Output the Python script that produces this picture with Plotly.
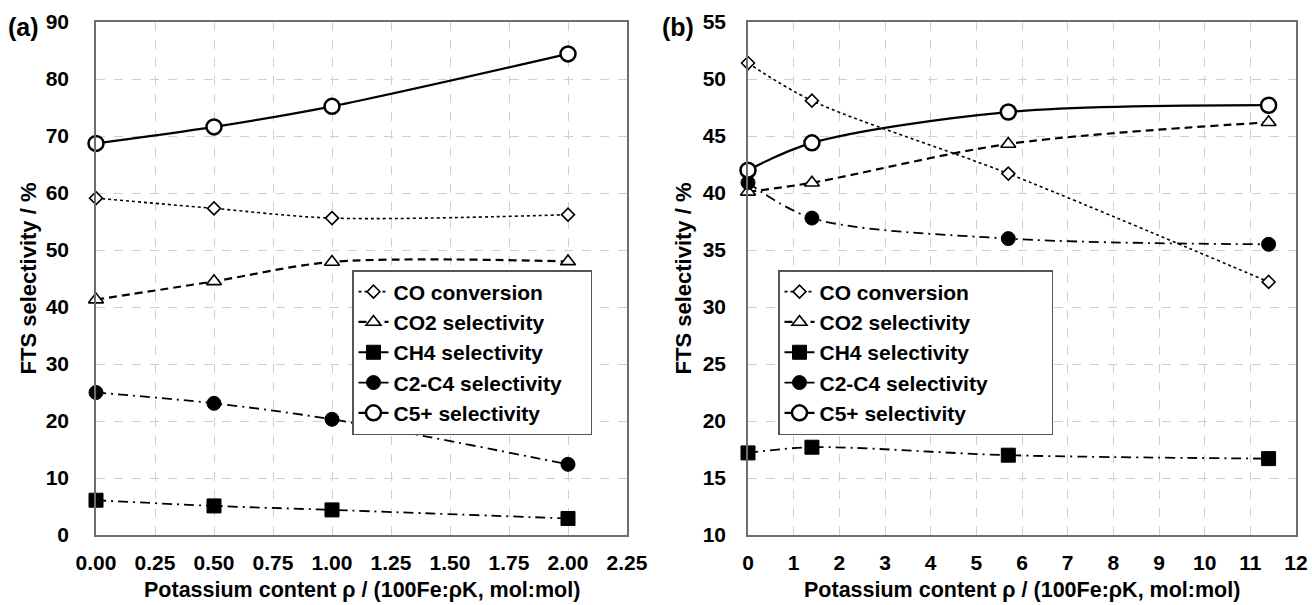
import plotly.graph_objects as go

# Panel (a): potassium content 0-2 (100Fe:pK)
k_a = [0.0, 0.5, 1.0, 2.0]
co_conv_a = [59.1, 57.3, 55.6, 56.2]
co2_sel_a = [41.3, 44.5, 47.9, 48.0]
ch4_sel_a = [6.1, 5.1, 4.4, 2.9]
c2c4_sel_a = [25.0, 23.1, 20.3, 12.4]
c5p_sel_a = [68.7, 71.6, 75.2, 84.4]

# Panel (b): potassium content 0-11.4 (100Fe:pK)
k_b = [0.0, 1.4, 5.7, 11.4]
co_conv_b = [51.4, 48.1, 41.7, 32.2]
co2_sel_b = [40.1, 40.9, 44.3, 46.2]
ch4_sel_b = [17.2, 17.7, 17.0, 16.7]
c2c4_sel_b = [40.9, 37.8, 36.0, 35.5]
c5p_sel_b = [42.0, 44.4, 47.1, 47.7]

series_names = ["CO conversion", "CO2 selectivity", "CH4 selectivity",
                "C2-C4 selectivity", "C5+ selectivity"]

FONT = "Liberation Sans, Arial, sans-serif"
BLACK = "#000000"
W, H = 1312, 605
NBSP = "\u00a0"

styles = [
    dict(symbol="diamond", size=10, fill="white", lw=1.6, dash="dot", width=1.6),
    dict(symbol="triangle-up", size=13, fill="white", lw=1.6, dash="8px,5px", width=2.2),
    dict(symbol="square", size=14, fill=BLACK, lw=1, dash="10px,5px,2px,5px", width=1.8),
    dict(symbol="circle", size=14, fill=BLACK, lw=1, dash="10px,5px,2px,5px", width=1.8),
    dict(symbol="circle", size=15, fill="white", lw=2.5, dash="solid", width=2.2),
]

fig = go.Figure()

# (x values, series, x axis, y axis, legend id, trailing padding of legend box)
panels = [
    (k_a, [co_conv_a, co2_sel_a, ch4_sel_a, c2c4_sel_a, c5p_sel_a], "x", "y", "legend", 4),
    (k_b, [co_conv_b, co2_sel_b, ch4_sel_b, c2c4_sel_b, c5p_sel_b], "x2", "y2", "legend2", 10),
]

for xs, ys_list, xa, ya, lg, pad in panels:
    for name, ys, st in zip(series_names, ys_list, styles):
        fig.add_trace(go.Scatter(
            x=xs, y=ys, name="<b>" + name + "</b>" + NBSP * pad, mode="lines+markers",
            xaxis=xa, yaxis=ya, legend=lg, cliponaxis=False,
            line=dict(color=BLACK, width=st["width"], dash=st["dash"],
                      shape="spline", smoothing=0.9),
            marker=dict(symbol=st["symbol"], size=st["size"], color=st["fill"],
                        line=dict(color=BLACK, width=st["lw"])),
        ))

axis_common = dict(
    showline=True, linecolor="#6e6e6e", linewidth=1.5, mirror=True,
    showgrid=True, gridcolor="#cfcfcf", griddash="dash", gridwidth=1,
    zeroline=False, ticks="", automargin=False,
    tickfont=dict(family=FONT, size=21, color=BLACK),
    tickprefix="<b>", ticksuffix="</b>",
)

x_title = "<b>Potassium content ρ / (100Fe:ρK, mol:mol)</b>"
y_title = "<b>FTS selectivity / %</b>"

# plot-area pixel boxes (left, right) and shared (top, bottom)
ax_a = (96, 627)
ax_b = (748, 1296)
top, bottom = 22, 535
ydom = [(H - bottom) / H, (H - top) / H]


def px(x):
    return x / W


def py(y):
    return (H - y) / H


legend_common = dict(xanchor="left", yanchor="top", bgcolor="white",
                     bordercolor="#555555", borderwidth=1.5, tracegroupgap=0,
                     font=dict(family=FONT, size=21, color=BLACK))

fig.update_layout(
    width=W, height=H,
    margin=dict(l=0, r=0, t=0, b=0, autoexpand=False),
    paper_bgcolor="white", plot_bgcolor="white",
    font=dict(family=FONT, color=BLACK),
    xaxis=dict(axis_common, domain=[px(ax_a[0]), px(ax_a[1])], range=[0, 2.25],
               tick0=0, dtick=0.25, tickformat=".2f", anchor="y",
               ticklabelstandoff=8),
    yaxis=dict(axis_common, domain=ydom, range=[0, 90], tick0=0, dtick=10,
               anchor="x", ticklabelstandoff=21),
    xaxis2=dict(axis_common, domain=[px(ax_b[0]), px(ax_b[1])], range=[0, 12],
                tick0=0, dtick=1, anchor="y2", ticklabelstandoff=8),
    yaxis2=dict(axis_common, domain=ydom, range=[10, 55], tick0=10, dtick=5,
                anchor="x2", ticklabelstandoff=16),
    legend=dict(legend_common, x=px(352), y=py(270)),
    legend2=dict(legend_common, x=px(778), y=py(270)),
    showlegend=True,
)

annotations = [
    dict(text="<b>(a)</b>", x=px(6), y=py(27), xanchor="left", yanchor="middle",
         font=dict(size=25)),
    dict(text="<b>(b)</b>", x=px(660), y=py(27), xanchor="left", yanchor="middle",
         font=dict(size=25)),
    dict(text=x_title, x=px(sum(ax_a) / 2), y=py(590), xanchor="center",
         yanchor="middle", font=dict(size=21.5)),
    dict(text=x_title, x=px(sum(ax_b) / 2), y=py(590), xanchor="center",
         yanchor="middle", font=dict(size=21.5)),
    dict(text=y_title, x=px(28), y=py((top + bottom) / 2), xanchor="center",
         yanchor="middle", textangle=-90, font=dict(size=22)),
    dict(text=y_title, x=px(683), y=py((top + bottom) / 2), xanchor="center",
         yanchor="middle", textangle=-90, font=dict(size=22)),
]
for a in annotations:
    a.update(xref="paper", yref="paper", showarrow=False)
    a["font"].update(family=FONT, color=BLACK)
fig.update_layout(annotations=annotations)

fig.write_html("out.html")
